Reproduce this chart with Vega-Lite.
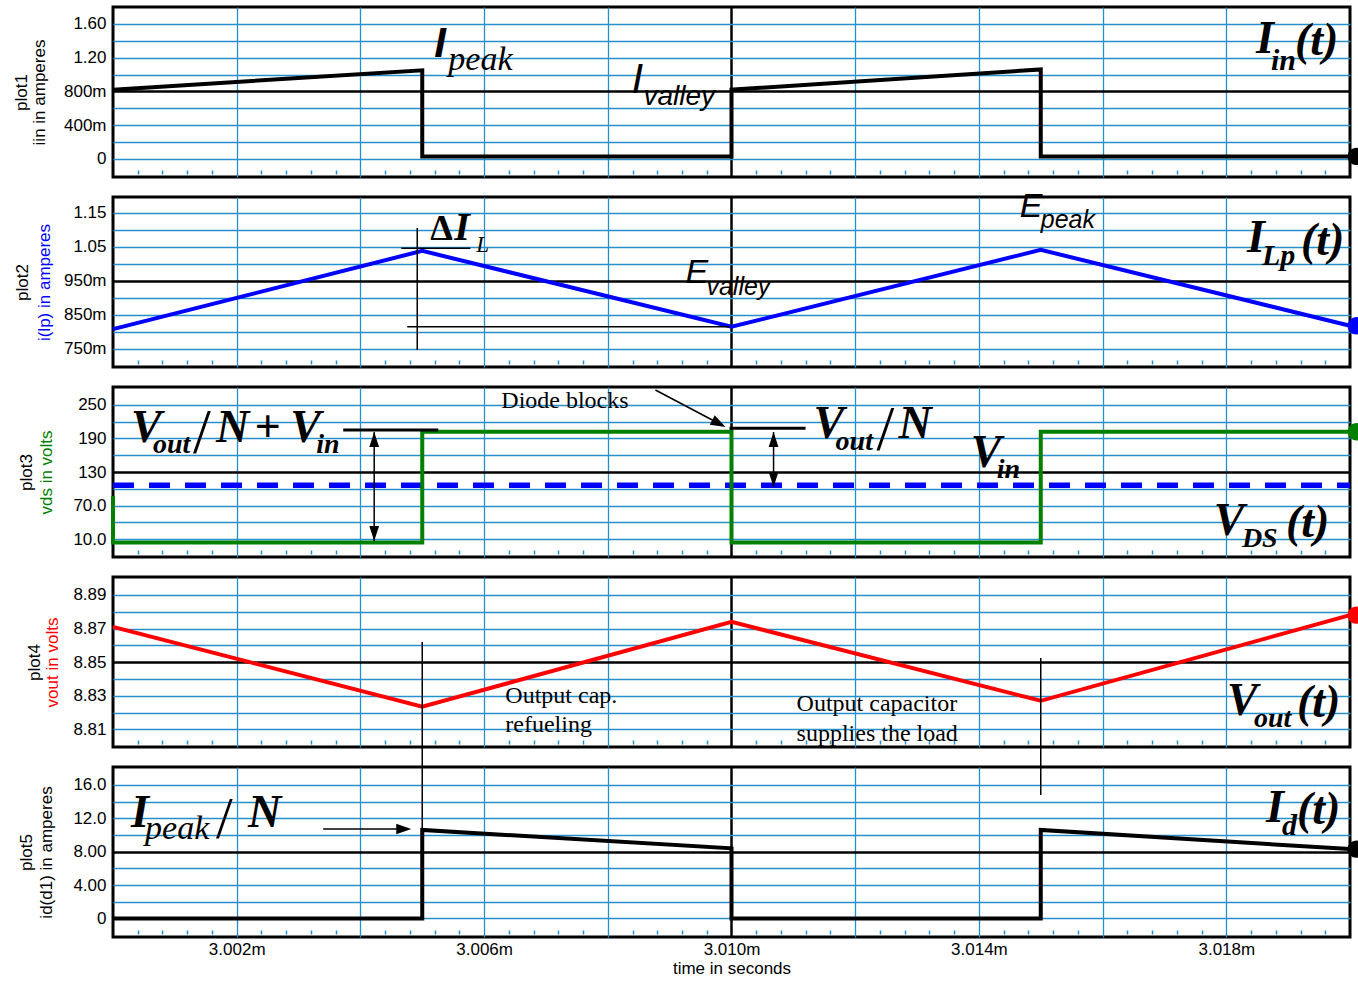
{
"$schema": "https://vega.github.io/schema/vega-lite/v6.json",
"background": "white",
"padding": {"left": 10, "top": 5, "right": 0, "bottom": 0},
"autosize": {"type": "pad"},
"spacing": 20,
"bounds": "flush",
"config": {
  "view": {"stroke": "black", "strokeWidth": 3},
  "axis": {"labelFont": "Liberation Sans", "labelFontSize": 17, "labelColor": "black", "titleFont": "Liberation Sans", "titleFontSize": 17, "titleFontWeight": "normal", "titleColor": "black"}
},
"vconcat": [
{
  "width": 1237, "height": 170,
  "encoding": {
    "x": {"field": "t", "type": "quantitative", "scale": {"domain": [3.0, 3.02], "nice": false, "zero": false}, "axis": null},
    "y": {"field": "v", "type": "quantitative", "scale": {"domain": [-0.214, 1.8], "nice": false, "zero": false}, "axis": null}
  },
  "layer": [
    {
      "data": {"values": [{"i":0,"t":3.000,"v":0.82},{"i":1,"t":3.005,"v":1.05},{"i":2,"t":3.005,"v":0.03},{"i":3,"t":3.010,"v":0.03},{"i":4,"t":3.010,"v":0.82},{"i":5,"t":3.015,"v":1.06},{"i":6,"t":3.015,"v":0.03},{"i":7,"t":3.020,"v":0.03}]},
      "mark": {"type": "line", "color": "black", "strokeWidth": 4},
      "encoding": {
        "order": {"field": "i", "type": "quantitative"},
        "x": {"field": "t", "type": "quantitative", "scale": {"domain": [3.0, 3.02], "nice": false, "zero": false},
          "axis": {"values": [3.002,3.004,3.006,3.008,3.01,3.012,3.014,3.016,3.018], "grid": true, "gridColor": {"condition": {"test": "abs(datum.value-3.01)<1e-9", "value": "black"}, "value": "#2690cc"}, "gridWidth": {"condition": {"test": "abs(datum.value-3.01)<1e-9", "value": 2.5}, "value": 1.3}, "labels": false, "ticks": false, "domain": false, "title": null}},
        "y": {"field": "v", "type": "quantitative", "scale": {"domain": [-0.214, 1.8], "nice": false, "zero": false},
          "axis": {"orient": "left", "values": [0,0.2,0.4,0.6,0.8,1.0,1.2,1.4,1.6], "grid": true, "gridColor": {"condition": {"test": "abs(datum.value-0.8)<1e-6", "value": "black"}, "value": "#2690cc"}, "gridWidth": {"condition": {"test": "abs(datum.value-0.8)<1e-6", "value": 2.5}, "value": 1.3}, "ticks": false, "domain": false, "labelPadding": 7, "labelOverlap": false,
            "labelExpr": "abs(datum.value-1.6)<1e-6?'1.60':abs(datum.value-1.2)<1e-6?'1.20':abs(datum.value-0.8)<1e-6?'800m':abs(datum.value-0.4)<1e-6?'400m':abs(datum.value)<1e-6?'0':''",
            "title": "iin in amperes", "titleColor": "black", "titleX": -65, "titleY": 85, "titleAngle": -90, "titleBaseline": "bottom", "titleAlign": "center"}}
      }
    },
    {
      "data": {"values": [{"t": 3.0201, "v": 0.03}]},
      "mark": {"type": "point", "shape": "circle", "filled": true, "size": 300, "opacity": 1, "color": "black"},
      "encoding": {
        "x": {"field": "t", "type": "quantitative", "scale": {"domain": [3.0, 3.02], "nice": false, "zero": false},
          "axis": {"values": [3.0004,3.0008,3.0012,3.0016,3.0024,3.0028,3.0032,3.0036,3.0044,3.0048,3.0052,3.0056,3.0064,3.0068,3.0072,3.0076,3.0084,3.0088,3.0092,3.0096,3.0104,3.0108,3.0112,3.0116,3.0124,3.0128,3.0132,3.0136,3.0144,3.0148,3.0152,3.0156,3.0164,3.0168,3.0172,3.0176,3.0184,3.0188,3.0192,3.0196], "orient": "bottom", "offset": -7, "ticks": true, "tickSize": 4, "tickColor": "#2690cc", "tickWidth": 1.5, "labels": false, "domain": false, "grid": false, "title": null}},
        "y": {"field": "v", "type": "quantitative", "scale": {"domain": [-0.214, 1.8], "nice": false, "zero": false},
          "axis": {"orient": "left", "title": "plot1", "labels": false, "ticks": false, "domain": false, "grid": false, "titleX": -83, "titleY": 85, "titleAngle": -90, "titleBaseline": "bottom", "titleAlign": "center", "titleColor": "black"}}
      }
    },
    {
      "data": {"values": [{"t": 3.005194, "v": 1.2077, "s": "I"}]},
      "mark": {"type": "text", "align": "left", "baseline": "alphabetic", "font": "Liberation Sans", "fontStyle": "italic", "fontWeight": "bold", "fontSize": 42, "color": "black"},
      "encoding": {"text": {"field": "s"}}
    },
    {
      "data": {"values": [{"t": 3.008382, "v": 0.7811, "s": "I"}]},
      "mark": {"type": "text", "align": "left", "baseline": "alphabetic", "font": "Liberation Sans", "fontStyle": "italic", "fontSize": 42, "color": "black"},
      "encoding": {"text": {"field": "s"}}
    },
    {
      "data": {"values": [{"t": 3.005421, "v": 1.0536, "s": "peak"}]},
      "mark": {"type": "text", "align": "left", "baseline": "alphabetic", "font": "Liberation Serif", "fontStyle": "italic", "fontSize": 34, "color": "black"},
      "encoding": {"text": {"field": "s"}}
    },
    {
      "data": {"values": [{"t": 3.008576, "v": 0.639, "s": "valley"}]},
      "mark": {"type": "text", "align": "left", "baseline": "alphabetic", "font": "Liberation Sans", "fontStyle": "italic", "fontSize": 28, "color": "black"},
      "encoding": {"text": {"field": "s"}}
    },
    {
      "data": {"values": [{"t": 3.018479, "v": 1.255, "s": "I"}, {"t": 3.01911, "v": 1.2313, "s": "(t)"}]},
      "mark": {"type": "text", "align": "left", "baseline": "alphabetic", "font": "Liberation Serif", "fontStyle": "italic", "fontWeight": "bold", "fontSize": 46, "color": "black"},
      "encoding": {"text": {"field": "s"}}
    },
    {
      "data": {"values": [{"t": 3.018722, "v": 1.0536, "s": "in"}]},
      "mark": {"type": "text", "align": "left", "baseline": "alphabetic", "font": "Liberation Serif", "fontStyle": "italic", "fontWeight": "bold", "fontSize": 30, "color": "black"},
      "encoding": {"text": {"field": "s"}}
    }
  ],
  "resolve": {"axis": {"x": "independent", "y": "independent"}}
},
{
  "width": 1237, "height": 170,
  "encoding": {
    "x": {"field": "t", "type": "quantitative", "scale": {"domain": [3.0, 3.02], "nice": false, "zero": false}, "axis": null},
    "y": {"field": "v", "type": "quantitative", "scale": {"domain": [0.697, 1.196], "nice": false, "zero": false}, "axis": null}
  },
  "layer": [
    {
      "data": {"values": [{"t":3.000,"v":0.808},{"t":3.005,"v":1.038},{"t":3.010,"v":0.815},{"t":3.015,"v":1.041},{"t":3.020,"v":0.818}]},
      "mark": {"type": "line", "color": "#0000ff", "strokeWidth": 4},
      "encoding": {
        "x": {"field": "t", "type": "quantitative", "scale": {"domain": [3.0, 3.02], "nice": false, "zero": false},
          "axis": {"values": [3.002,3.004,3.006,3.008,3.01,3.012,3.014,3.016,3.018], "grid": true, "gridColor": {"condition": {"test": "abs(datum.value-3.01)<1e-9", "value": "black"}, "value": "#2690cc"}, "gridWidth": {"condition": {"test": "abs(datum.value-3.01)<1e-9", "value": 2.5}, "value": 1.3}, "labels": false, "ticks": false, "domain": false, "title": null}},
        "y": {"field": "v", "type": "quantitative", "scale": {"domain": [0.697, 1.196], "nice": false, "zero": false},
          "axis": {"orient": "left", "values": [0.75,0.8,0.85,0.9,0.95,1.0,1.05,1.1,1.15], "grid": true, "gridColor": {"condition": {"test": "abs(datum.value-0.95)<1e-6", "value": "black"}, "value": "#2690cc"}, "gridWidth": {"condition": {"test": "abs(datum.value-0.95)<1e-6", "value": 2.5}, "value": 1.3}, "ticks": false, "domain": false, "labelPadding": 7, "labelOverlap": false,
            "labelExpr": "abs(datum.value-1.15)<1e-6?'1.15':abs(datum.value-1.05)<1e-6?'1.05':abs(datum.value-0.95)<1e-6?'950m':abs(datum.value-0.85)<1e-6?'850m':abs(datum.value-0.75)<1e-6?'750m':''",
            "title": "i(lp) in amperes", "titleColor": "#0000ff", "titleX": -60, "titleY": 85, "titleAngle": -90, "titleBaseline": "bottom", "titleAlign": "center"}}
      }
    },
    {
      "data": {"values": [{"t": 3.0201, "v": 0.818}]},
      "mark": {"type": "point", "shape": "circle", "filled": true, "size": 300, "opacity": 1, "color": "#0000ff"},
      "encoding": {
        "x": {"field": "t", "type": "quantitative", "scale": {"domain": [3.0, 3.02], "nice": false, "zero": false},
          "axis": {"values": [3.0004,3.0008,3.0012,3.0016,3.0024,3.0028,3.0032,3.0036,3.0044,3.0048,3.0052,3.0056,3.0064,3.0068,3.0072,3.0076,3.0084,3.0088,3.0092,3.0096,3.0104,3.0108,3.0112,3.0116,3.0124,3.0128,3.0132,3.0136,3.0144,3.0148,3.0152,3.0156,3.0164,3.0168,3.0172,3.0176,3.0184,3.0188,3.0192,3.0196], "orient": "bottom", "offset": -7, "ticks": true, "tickSize": 4, "tickColor": "#2690cc", "tickWidth": 1.5, "labels": false, "domain": false, "grid": false, "title": null}},
        "y": {"field": "v", "type": "quantitative", "scale": {"domain": [0.697, 1.196], "nice": false, "zero": false},
          "axis": {"orient": "left", "title": "plot2", "labels": false, "ticks": false, "domain": false, "grid": false, "titleX": -82, "titleY": 85, "titleAngle": -90, "titleBaseline": "bottom", "titleAlign": "center", "titleColor": "black"}}
      }
    },
    {
      "data": {"values": [{"t":3.004919,"t2":3.004919,"v":1.105,"v2":0.7469},{"t":3.00466,"t2":3.005777,"v":1.0454,"v2":1.0454},{"t":3.004757,"t2":3.009968,"v":0.8153,"v2":0.8153}]},
      "mark": {"type": "rule", "color": "black", "strokeWidth": 1.5},
      "encoding": {"x2": {"field": "t2"}, "y2": {"field": "v2"}}
    },
    {
      "data": {"values": [{"t": 3.005129, "v": 1.0698, "s": "Δ"}]},
      "mark": {"type": "text", "align": "left", "baseline": "alphabetic", "font": "Liberation Serif", "fontWeight": "bold", "fontSize": 36, "color": "black"},
      "encoding": {"text": {"field": "s"}}
    },
    {
      "data": {"values": [{"t": 3.005518, "v": 1.0698, "s": "I"}]},
      "mark": {"type": "text", "align": "left", "baseline": "alphabetic", "font": "Liberation Serif", "fontStyle": "italic", "fontWeight": "bold", "fontSize": 40, "color": "black"},
      "encoding": {"text": {"field": "s"}}
    },
    {
      "data": {"values": [{"t": 3.005874, "v": 1.0346, "s": "L"}]},
      "mark": {"type": "text", "align": "left", "baseline": "alphabetic", "font": "Liberation Serif", "fontStyle": "italic", "fontSize": 23, "color": "black"},
      "encoding": {"text": {"field": "s"}}
    },
    {
      "data": {"values": [{"t": 3.009256, "v": 0.9436, "s": "E"}, {"t": 3.01466, "v": 1.1373, "s": "E"}]},
      "mark": {"type": "text", "align": "left", "baseline": "alphabetic", "font": "Liberation Sans", "fontStyle": "italic", "fontSize": 34, "color": "black"},
      "encoding": {"text": {"field": "s"}}
    },
    {
      "data": {"values": [{"t": 3.009595, "v": 0.9084, "s": "valley"}, {"t": 3.015, "v": 1.105, "s": "peak"}]},
      "mark": {"type": "text", "align": "left", "baseline": "alphabetic", "font": "Liberation Sans", "fontStyle": "italic", "fontSize": 25, "color": "black"},
      "encoding": {"text": {"field": "s"}}
    },
    {
      "data": {"values": [{"t": 3.018333, "v": 1.0346, "s": "I"}, {"t": 3.019207, "v": 1.0258, "s": "(t)"}]},
      "mark": {"type": "text", "align": "left", "baseline": "alphabetic", "font": "Liberation Serif", "fontStyle": "italic", "fontWeight": "bold", "fontSize": 46, "color": "black"},
      "encoding": {"text": {"field": "s"}}
    },
    {
      "data": {"values": [{"t": 3.018576, "v": 0.9964, "s": "Lp"}]},
      "mark": {"type": "text", "align": "left", "baseline": "alphabetic", "font": "Liberation Serif", "fontStyle": "italic", "fontWeight": "bold", "fontSize": 30, "color": "black"},
      "encoding": {"text": {"field": "s"}}
    }
  ],
  "resolve": {"axis": {"x": "independent", "y": "independent"}}
},
{
  "width": 1237, "height": 170,
  "encoding": {
    "x": {"field": "t", "type": "quantitative", "scale": {"domain": [3.0, 3.02], "nice": false, "zero": false}, "axis": null},
    "y": {"field": "v", "type": "quantitative", "scale": {"domain": [-22, 282], "nice": false, "zero": false}, "axis": null}
  },
  "layer": [
    {
      "data": {"values": [{"t":3.0,"v":106.5},{"t":3.02,"v":106.5}]},
      "mark": {"type": "line", "color": "#0000ff", "strokeWidth": 5.5, "strokeDash": [21, 15]},
      "encoding": {}
    },
    {
      "data": {"values": [{"i":0,"t":3.000,"v":87},{"i":1,"t":3.000,"v":4},{"i":2,"t":3.005,"v":4},{"i":3,"t":3.005,"v":202},{"i":4,"t":3.010,"v":202},{"i":5,"t":3.010,"v":4},{"i":6,"t":3.015,"v":4},{"i":7,"t":3.015,"v":202},{"i":8,"t":3.020,"v":202}]},
      "mark": {"type": "line", "color": "#008000", "strokeWidth": 4},
      "encoding": {
        "order": {"field": "i", "type": "quantitative"},
        "x": {"field": "t", "type": "quantitative", "scale": {"domain": [3.0, 3.02], "nice": false, "zero": false},
          "axis": {"values": [3.002,3.004,3.006,3.008,3.01,3.012,3.014,3.016,3.018], "grid": true, "gridColor": {"condition": {"test": "abs(datum.value-3.01)<1e-9", "value": "black"}, "value": "#2690cc"}, "gridWidth": {"condition": {"test": "abs(datum.value-3.01)<1e-9", "value": 2.5}, "value": 1.3}, "labels": false, "ticks": false, "domain": false, "title": null}},
        "y": {"field": "v", "type": "quantitative", "scale": {"domain": [-22, 282], "nice": false, "zero": false},
          "axis": {"orient": "left", "values": [10,40,70,100,130,160,190,220,250], "grid": true, "gridColor": {"condition": {"test": "datum.value==130", "value": "black"}, "value": "#2690cc"}, "gridWidth": {"condition": {"test": "datum.value==130", "value": 2.5}, "value": 1.3}, "ticks": false, "domain": false, "labelPadding": 7, "labelOverlap": false,
            "labelExpr": "datum.value==250?'250':datum.value==190?'190':datum.value==130?'130':datum.value==70?'70.0':datum.value==10?'10.0':''",
            "title": "vds in volts", "titleColor": "#008000", "titleX": -58, "titleY": 85, "titleAngle": -90, "titleBaseline": "bottom", "titleAlign": "center"}}
      }
    },
    {
      "data": {"values": [{"t": 3.0201, "v": 202}]},
      "mark": {"type": "point", "shape": "circle", "filled": true, "size": 300, "opacity": 1, "color": "#008000"},
      "encoding": {
        "x": {"field": "t", "type": "quantitative", "scale": {"domain": [3.0, 3.02], "nice": false, "zero": false},
          "axis": {"values": [3.0004,3.0008,3.0012,3.0016,3.0024,3.0028,3.0032,3.0036,3.0044,3.0048,3.0052,3.0056,3.0064,3.0068,3.0072,3.0076,3.0084,3.0088,3.0092,3.0096,3.0104,3.0108,3.0112,3.0116,3.0124,3.0128,3.0132,3.0136,3.0144,3.0148,3.0152,3.0156,3.0164,3.0168,3.0172,3.0176,3.0184,3.0188,3.0192,3.0196], "orient": "bottom", "offset": -7, "ticks": true, "tickSize": 4, "tickColor": "#2690cc", "tickWidth": 1.5, "labels": false, "domain": false, "grid": false, "title": null}},
        "y": {"field": "v", "type": "quantitative", "scale": {"domain": [-22, 282], "nice": false, "zero": false},
          "axis": {"orient": "left", "title": "plot3", "labels": false, "ticks": false, "domain": false, "grid": false, "titleX": -78, "titleY": 85, "titleAngle": -90, "titleBaseline": "bottom", "titleAlign": "center", "titleColor": "black"}}
      }
    },
    {
      "data": {"values": [{"t":3.00877,"t2":3.009796,"v":276.6,"v2":216.7},{"t":3.004223,"t2":3.004223,"v":201.5,"v2":6.6},{"t":3.01068,"t2":3.01068,"v":201.5,"v2":103.2}]},
      "mark": {"type": "rule", "color": "black", "strokeWidth": 1.5},
      "encoding": {"x2": {"field": "t2"}, "y2": {"field": "v2"}}
    },
    {
      "data": {"values": [{"t":3.003722,"t2":3.005259,"v":205.1,"v2":205.1},{"t":3.009968,"t2":3.011197,"v":208.2,"v2":208.2}]},
      "mark": {"type": "rule", "color": "black", "strokeWidth": 3},
      "encoding": {"x2": {"field": "t2"}, "y2": {"field": "v2"}}
    },
    {
      "data": {"values": [{"t":3.004223,"v":188.1},{"t":3.01068,"v":188.1}]},
      "mark": {"type": "point", "shape": "M0,-1L0.65,1L-0.65,1Z", "filled": true, "size": 225, "opacity": 1, "color": "black"},
      "encoding": {}
    },
    {
      "data": {"values": [{"t":3.004223,"v":20.1},{"t":3.01068,"v":116.6}]},
      "mark": {"type": "point", "shape": "M0,1L0.65,-1L-0.65,-1Z", "filled": true, "size": 225, "opacity": 1, "color": "black"},
      "encoding": {}
    },
    {
      "data": {"values": [{"t":3.009796,"v":216.7}]},
      "mark": {"type": "point", "shape": "M1,0L-1,0.7L-1,-0.7Z", "angle": 28, "filled": true, "size": 225, "opacity": 1, "color": "black"},
      "encoding": {}
    },
    {
      "data": {"values": [{"t": 3.006278, "v": 244.5, "s": "Diode blocks"}]},
      "mark": {"type": "text", "align": "left", "baseline": "alphabetic", "font": "Liberation Serif", "fontSize": 24, "color": "black"},
      "encoding": {"text": {"field": "s"}}
    },
    {
      "data": {"values": [{"t":3.000291,"v":183.7,"s":"V"},{"t":3.001667,"v":183.7,"s":"N"},{"t":3.002282,"v":183.7,"s":"+"},{"t":3.002864,"v":183.7,"s":"V"},{"t":3.011327,"v":190.8,"s":"V"},{"t":3.012702,"v":190.8,"s":"N"},{"t":3.013867,"v":138.96,"s":"V"},{"t":3.017799,"v":17.4,"s":"V"},{"t":3.018964,"v":13.8,"s":"(t)"}]},
      "mark": {"type": "text", "align": "left", "baseline": "alphabetic", "font": "Liberation Serif", "fontStyle": "italic", "fontWeight": "bold", "fontSize": 46, "color": "black"},
      "encoding": {"text": {"field": "s"}}
    },
    {
      "data": {"values": [{"t":3.000647,"v":164.0,"s":"out"},{"t":3.003285,"v":164.0,"s":"in"},{"t":3.011683,"v":169.4,"s":"out"},{"t":3.014288,"v":119.3,"s":"in"},{"t":3.018252,"v":-4.1,"s":"DS"}]},
      "mark": {"type": "text", "align": "left", "baseline": "alphabetic", "font": "Liberation Serif", "fontStyle": "italic", "fontWeight": "bold", "fontSize": 28, "color": "black"},
      "encoding": {"text": {"field": "s"}}
    },
    {
      "data": {"values": [{"t":3.001294,"v":164.0,"s":"/"},{"t":3.012346,"v":169.4,"s":"/"}]},
      "mark": {"type": "text", "align": "left", "baseline": "alphabetic", "font": "Liberation Serif", "fontSize": 64, "color": "black"},
      "encoding": {"text": {"field": "s"}}
    }
  ],
  "resolve": {"axis": {"x": "independent", "y": "independent"}}
},
{
  "width": 1237, "height": 170,
  "encoding": {
    "x": {"field": "t", "type": "quantitative", "scale": {"domain": [3.0, 3.02], "nice": false, "zero": false}, "axis": null},
    "y": {"field": "v", "type": "quantitative", "scale": {"domain": [8.7995, 8.9007], "nice": false, "zero": false}, "axis": null}
  },
  "layer": [
    {
      "data": {"values": [{"t":3.000,"v":8.871},{"t":3.005,"v":8.8235},{"t":3.010,"v":8.874},{"t":3.015,"v":8.827},{"t":3.020,"v":8.878}]},
      "mark": {"type": "line", "color": "#ff0000", "strokeWidth": 4},
      "encoding": {
        "x": {"field": "t", "type": "quantitative", "scale": {"domain": [3.0, 3.02], "nice": false, "zero": false},
          "axis": {"values": [3.002,3.004,3.006,3.008,3.01,3.012,3.014,3.016,3.018], "grid": true, "gridColor": {"condition": {"test": "abs(datum.value-3.01)<1e-9", "value": "black"}, "value": "#2690cc"}, "gridWidth": {"condition": {"test": "abs(datum.value-3.01)<1e-9", "value": 2.5}, "value": 1.3}, "labels": false, "ticks": false, "domain": false, "title": null}},
        "y": {"field": "v", "type": "quantitative", "scale": {"domain": [8.7995, 8.9007], "nice": false, "zero": false},
          "axis": {"orient": "left", "values": [8.81,8.82,8.83,8.84,8.85,8.86,8.87,8.88,8.89], "grid": true, "gridColor": {"condition": {"test": "abs(datum.value-8.85)<1e-6", "value": "black"}, "value": "#2690cc"}, "gridWidth": {"condition": {"test": "abs(datum.value-8.85)<1e-6", "value": 2.5}, "value": 1.3}, "ticks": false, "domain": false, "labelPadding": 7, "labelOverlap": false,
            "labelExpr": "(round(datum.value*100)%2==1)?format(datum.value,'.2f'):''",
            "title": "vout in volts", "titleColor": "#ff0000", "titleX": -52, "titleY": 85, "titleAngle": -90, "titleBaseline": "bottom", "titleAlign": "center"}}
      }
    },
    {
      "data": {"values": [{"t": 3.0201, "v": 8.878}]},
      "mark": {"type": "point", "shape": "circle", "filled": true, "size": 300, "opacity": 1, "color": "#ff0000"},
      "encoding": {
        "x": {"field": "t", "type": "quantitative", "scale": {"domain": [3.0, 3.02], "nice": false, "zero": false},
          "axis": {"values": [3.0004,3.0008,3.0012,3.0016,3.0024,3.0028,3.0032,3.0036,3.0044,3.0048,3.0052,3.0056,3.0064,3.0068,3.0072,3.0076,3.0084,3.0088,3.0092,3.0096,3.0104,3.0108,3.0112,3.0116,3.0124,3.0128,3.0132,3.0136,3.0144,3.0148,3.0152,3.0156,3.0164,3.0168,3.0172,3.0176,3.0184,3.0188,3.0192,3.0196], "orient": "bottom", "offset": -7, "ticks": true, "tickSize": 4, "tickColor": "#2690cc", "tickWidth": 1.5, "labels": false, "domain": false, "grid": false, "title": null}},
        "y": {"field": "v", "type": "quantitative", "scale": {"domain": [8.7995, 8.9007], "nice": false, "zero": false},
          "axis": {"orient": "left", "title": "plot4", "labels": false, "ticks": false, "domain": false, "grid": false, "titleX": -70, "titleY": 85, "titleAngle": -90, "titleBaseline": "bottom", "titleAlign": "center", "titleColor": "black"}}
      }
    },
    {
      "data": {"values": [{"t":3.005,"t2":3.005,"v":8.86203,"v2":8.78765},{"t":3.015,"t2":3.015,"v":8.85251,"v2":8.78765}]},
      "mark": {"type": "rule", "color": "black", "strokeWidth": 1.5},
      "encoding": {"x2": {"field": "t2"}, "y2": {"field": "v2"}}
    },
    {
      "data": {"values": [{"t":3.006343,"v":8.82573,"s":"Output cap."},{"t":3.006343,"v":8.80848,"s":"refueling"},{"t":3.011052,"v":8.82097,"s":"Output capacitor"},{"t":3.011052,"v":8.80312,"s":"supplies the load"}]},
      "mark": {"type": "text", "align": "left", "baseline": "alphabetic", "font": "Liberation Serif", "fontSize": 24, "color": "black"},
      "encoding": {"text": {"field": "s"}}
    },
    {
      "data": {"values": [{"t":3.01801,"v":8.81859,"s":"V"},{"t":3.019142,"v":8.8174,"s":"(t)"}]},
      "mark": {"type": "text", "align": "left", "baseline": "alphabetic", "font": "Liberation Serif", "fontStyle": "italic", "fontWeight": "bold", "fontSize": 46, "color": "black"},
      "encoding": {"text": {"field": "s"}}
    },
    {
      "data": {"values": [{"t":3.018447,"v":8.81145,"s":"out"}]},
      "mark": {"type": "text", "align": "left", "baseline": "alphabetic", "font": "Liberation Serif", "fontStyle": "italic", "fontWeight": "bold", "fontSize": 28, "color": "black"},
      "encoding": {"text": {"field": "s"}}
    }
  ],
  "resolve": {"axis": {"x": "independent", "y": "independent"}}
},
{
  "width": 1237, "height": 170,
  "encoding": {
    "x": {"field": "t", "type": "quantitative", "scale": {"domain": [3.0, 3.02], "nice": false, "zero": false}, "axis": null},
    "y": {"field": "v", "type": "quantitative", "scale": {"domain": [-2.23, 18.14], "nice": false, "zero": false}, "axis": null}
  },
  "layer": [
    {
      "data": {"values": [{"i":0,"t":3.000,"v":0},{"i":1,"t":3.005,"v":0},{"i":2,"t":3.005,"v":10.6},{"i":3,"t":3.010,"v":8.4},{"i":4,"t":3.010,"v":0},{"i":5,"t":3.015,"v":0},{"i":6,"t":3.015,"v":10.6},{"i":7,"t":3.020,"v":8.3}]},
      "mark": {"type": "line", "color": "black", "strokeWidth": 4},
      "encoding": {
        "order": {"field": "i", "type": "quantitative"},
        "x": {"field": "t", "type": "quantitative", "scale": {"domain": [3.0, 3.02], "nice": false, "zero": false},
          "axis": {"values": [3.002,3.004,3.006,3.008,3.01,3.012,3.014,3.016,3.018], "grid": true, "gridColor": {"condition": {"test": "abs(datum.value-3.01)<1e-9", "value": "black"}, "value": "#2690cc"}, "gridWidth": {"condition": {"test": "abs(datum.value-3.01)<1e-9", "value": 2.5}, "value": 1.3}, "labels": true, "ticks": false, "domain": false, "labelOverlap": false, "labelPadding": 4,
            "labelExpr": "(round((datum.value-3.002)*1000)%4==0)?format(datum.value,'.3f')+'m':''",
            "title": "time in seconds", "titlePadding": 3}},
        "y": {"field": "v", "type": "quantitative", "scale": {"domain": [-2.23, 18.14], "nice": false, "zero": false},
          "axis": {"orient": "left", "values": [0,2,4,6,8,10,12,14,16], "grid": true, "gridColor": {"condition": {"test": "datum.value==8", "value": "black"}, "value": "#2690cc"}, "gridWidth": {"condition": {"test": "datum.value==8", "value": 2.5}, "value": 1.3}, "ticks": false, "domain": false, "labelPadding": 7, "labelOverlap": false,
            "labelExpr": "datum.value==16?'16.0':datum.value==12?'12.0':datum.value==8?'8.00':datum.value==4?'4.00':datum.value==0?'0':''",
            "title": "id(d1) in amperes", "titleColor": "black", "titleX": -58, "titleY": 85, "titleAngle": -90, "titleBaseline": "bottom", "titleAlign": "center"}}
      }
    },
    {
      "data": {"values": [{"t": 3.0201, "v": 8.3}]},
      "mark": {"type": "point", "shape": "circle", "filled": true, "size": 300, "opacity": 1, "color": "black"},
      "encoding": {
        "x": {"field": "t", "type": "quantitative", "scale": {"domain": [3.0, 3.02], "nice": false, "zero": false},
          "axis": {"values": [3.0004,3.0008,3.0012,3.0016,3.0024,3.0028,3.0032,3.0036,3.0044,3.0048,3.0052,3.0056,3.0064,3.0068,3.0072,3.0076,3.0084,3.0088,3.0092,3.0096,3.0104,3.0108,3.0112,3.0116,3.0124,3.0128,3.0132,3.0136,3.0144,3.0148,3.0152,3.0156,3.0164,3.0168,3.0172,3.0176,3.0184,3.0188,3.0192,3.0196], "orient": "bottom", "offset": -7, "ticks": true, "tickSize": 4, "tickColor": "#2690cc", "tickWidth": 1.5, "labels": false, "domain": false, "grid": false, "title": null}},
        "y": {"field": "v", "type": "quantitative", "scale": {"domain": [-2.23, 18.14], "nice": false, "zero": false},
          "axis": {"orient": "left", "title": "plot5", "labels": false, "ticks": false, "domain": false, "grid": false, "titleX": -78, "titleY": 85, "titleAngle": -90, "titleBaseline": "bottom", "titleAlign": "center", "titleColor": "black"}}
      }
    },
    {
      "data": {"values": [{"t":3.005,"t2":3.005,"v":18.14,"v2":10.6},{"t":3.015,"t2":3.015,"v":18.14,"v2":14.79},{"t":3.003398,"t2":3.004701,"v":10.71,"v2":10.71}]},
      "mark": {"type": "rule", "color": "black", "strokeWidth": 1.5},
      "encoding": {"x2": {"field": "t2"}, "y2": {"field": "v2"}}
    },
    {
      "data": {"values": [{"t":3.004701,"v":10.71}]},
      "mark": {"type": "point", "shape": "M1,0L-1,0.7L-1,-0.7Z", "filled": true, "size": 225, "opacity": 1, "color": "black"},
      "encoding": {}
    },
    {
      "data": {"values": [{"t":3.000291,"v":10.95,"s":"I"},{"t":3.002184,"v":10.95,"s":"N"},{"t":3.018641,"v":11.55,"s":"I"},{"t":3.019142,"v":11.31,"s":"(t)"}]},
      "mark": {"type": "text", "align": "left", "baseline": "alphabetic", "font": "Liberation Serif", "fontStyle": "italic", "fontWeight": "bold", "fontSize": 46, "color": "black"},
      "encoding": {"text": {"field": "s"}}
    },
    {
      "data": {"values": [{"t":3.000518,"v":9.51,"s":"peak"}]},
      "mark": {"type": "text", "align": "left", "baseline": "alphabetic", "font": "Liberation Serif", "fontStyle": "italic", "fontSize": 34, "color": "black"},
      "encoding": {"text": {"field": "s"}}
    },
    {
      "data": {"values": [{"t":3.0189,"v":9.99,"s":"d"}]},
      "mark": {"type": "text", "align": "left", "baseline": "alphabetic", "font": "Liberation Serif", "fontStyle": "italic", "fontWeight": "bold", "fontSize": 30, "color": "black"},
      "encoding": {"text": {"field": "s"}}
    },
    {
      "data": {"values": [{"t":3.001667,"v":9.63,"s":"/"}]},
      "mark": {"type": "text", "align": "left", "baseline": "alphabetic", "font": "Liberation Serif", "fontSize": 60, "color": "black"},
      "encoding": {"text": {"field": "s"}}
    }
  ],
  "resolve": {"axis": {"x": "independent", "y": "independent"}}
}
]
}
